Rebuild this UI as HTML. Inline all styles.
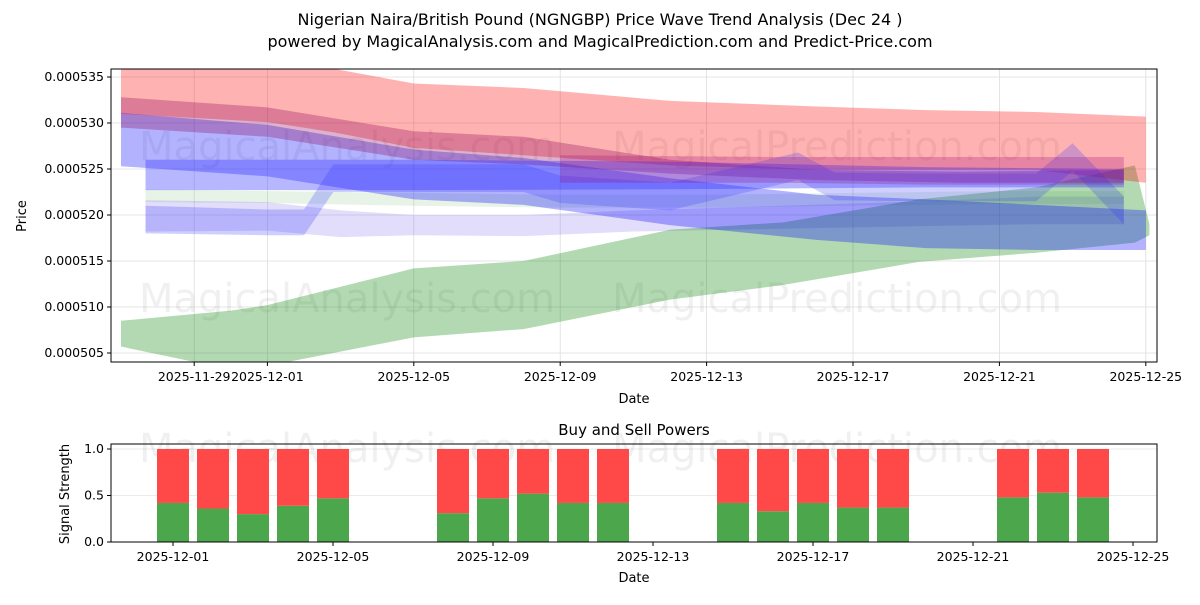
<!DOCTYPE html>
<html><head><meta charset="utf-8"><style>
body{margin:0;background:#fff;}
svg text{font-family:"DejaVu Sans","Liberation Sans",sans-serif;fill:#000;}
</style></head><body>
<svg id="c" width="1200" height="600" viewBox="0 0 1200 600">
<defs><clipPath id="clipT"><rect x="111" y="69" width="1046" height="293"/></clipPath></defs>
<text x="600" y="25" font-size="16" text-anchor="middle">Nigerian Naira/British Pound (NGNGBP) Price Wave Trend Analysis (Dec 24 )</text>
<text x="600" y="47" font-size="16" text-anchor="middle">powered by MagicalAnalysis.com and MagicalPrediction.com and Predict-Price.com</text>
<g id="topPanel"></g>
<g id="botPanel"></g>
</svg>
<script>
// ---- price chart data (day index from 2025-11-27, values in 1e-6 units) ----
const priceTickLabels=["0.000505","0.000510","0.000515","0.000520","0.000525","0.000530","0.000535"];
const priceTickValues=[505,510,515,520,525,530,535];
const dateTickLabels=["2025-11-29","2025-12-01","2025-12-05","2025-12-09","2025-12-13","2025-12-17","2025-12-21","2025-12-25"];
const dateTickDays=[2,4,8,12,16,20,24,28];
const redDays=[0,4,5.8,8,11,15,19,22,25,28];
const redUpper=[536.6,536.6,535.9,534.3,533.8,532.4,531.8,531.4,531.2,530.7];
const redLower=[531.0,530.1,529.0,527.3,526.5,525.4,524.9,524.9,524.9,523.5];
const purpleDays=[0,4,8,11,15,19,23,27.4];
const purpleUpper=[532.8,531.7,529.1,528.5,526.0,524.9,524.7,524.9];
const purpleLower=[529.5,528.5,526.0,525.5,524.5,523.8,523.5,523.5];
const blueDays=[0,4,8,11,15,19,22,25,28];
const blueUpper=[531.1,529.8,527.1,526.2,524.0,522.2,521.7,521.1,520.5];
const blueLower=[525.3,524.2,521.7,521.1,518.9,517.3,516.4,516.2,516.2];
const greenDays=[0,3,4,8,11,15,18.1,21.8,25,27.7,28.1];
const greenUpper=[508.5,509.6,510.2,514.2,515.0,518.4,519.2,521.7,523.0,525.4,519.0];
const greenLower=[505.7,503.2,503.6,506.7,507.6,510.8,512.4,514.9,515.9,517.0,517.8];
const flatDays=[0.67,8,15,22,27.4];
const flatUpper=[526.0,526.0,525.8,525.2,525.0];
const flatLower=[522.7,522.7,522.8,523.0,523.0];
const flat2Days=[12,18,22,27.4];
const flat2Upper=[526.5,526.3,526.3,526.3];
const flat2Lower=[523.5,523.5,523.3,523.3];
const lightGreenDays=[0.67,4,8,12,16,20,24,27.4];
const lightGreenUpper=[522.8,522.6,522.4,522.2,522.2,522.4,522.6,522.6];
const lightGreenLower=[521.4,521.3,521.0,520.8,520.8,521.0,521.2,521.2];
const lavDays=[0.67,4,6,8,11,14,18,22,25,27.4];
const lavUpper=[521.6,521.4,520.5,520.0,520.0,520.5,521.0,521.5,522.0,522.0];
const lavLower=[518.2,518.3,517.6,517.8,517.7,518.2,518.5,518.8,519.0,519.0];
const waveDays=[0.67,4,5,5.8,11,12,15,18.5,19.5,22,25,26,27.4];
const waveUpper=[521.0,520.6,520.6,525.5,525.5,524.3,523.5,526.8,524.6,524.5,524.5,527.8,522.0];
const waveLower=[518.0,517.8,517.8,522.5,522.5,521.3,520.5,523.8,521.6,521.5,521.5,524.8,519.0];
// ---- signal chart data (day index from 2025-11-27) ----
const barDays=[4,5,6,7,8,11,12,13,14,15,18,19,20,21,22,25,26,27];
const buyValues=[0.42,0.36,0.30,0.39,0.47,0.31,0.47,0.52,0.42,0.42,0.42,0.33,0.42,0.37,0.37,0.48,0.53,0.48];
const sigTickLabels=["0.0","0.5","1.0"];
const sigTickValues=[0,0.5,1.0];
const botTickLabels=["2025-12-01","2025-12-05","2025-12-09","2025-12-13","2025-12-17","2025-12-21","2025-12-25"];
const botTickDays=[4,8,12,16,20,24,28];

const NS="http://www.w3.org/2000/svg";
function mk(p,t,a){const e=document.createElementNS(NS,t);for(const k in a)e.setAttribute(k,a[k]);p.appendChild(e);return e;}
const topG=document.getElementById('topPanel'),botG=document.getElementById('botPanel');
const T={l:111,r:1157,t:69,b:362};
const xT=d=>121+d*36.6;
const yT=v=>77+(535-v)*9.2;
priceTickValues.forEach((v,i)=>{
 const g=mk(topG,'line',{x1:T.l,x2:T.r,y1:yT(v),y2:yT(v),stroke:'#ddd','stroke-width':0.8});
 
 mk(topG,'line',{x1:T.l-4,x2:T.l,y1:yT(v),y2:yT(v),stroke:'#000'});
 const t=mk(topG,'text',{x:T.l-7,y:yT(v)+4,'font-size':12.5,'text-anchor':'end'});t.textContent=priceTickLabels[i];
 
});
dateTickDays.forEach((d,i)=>{
 const g=mk(topG,'line',{x1:xT(d),x2:xT(d),y1:T.t,y2:T.b,stroke:'#ddd','stroke-width':0.8});
 
 mk(topG,'line',{x1:xT(d),x2:xT(d),y1:T.b,y2:T.b+4,stroke:'#000'});
 const t=mk(topG,'text',{x:xT(d),y:T.b+19,'font-size':12.5,'text-anchor':'middle'});t.textContent=dateTickLabels[i];
 
});
const wm1=mk(topG,'text',{x:347,y:160,'font-size':40,'text-anchor':'middle',style:'fill:rgba(0,0,0,0.06)'});wm1.textContent='MagicalAnalysis.com';

const wm2=mk(topG,'text',{x:837,y:160,'font-size':40,'text-anchor':'middle',style:'fill:rgba(0,0,0,0.06)'});wm2.textContent='MagicalPrediction.com';

const wm3=mk(topG,'text',{x:347,y:312,'font-size':40,'text-anchor':'middle',style:'fill:rgba(0,0,0,0.06)'});wm3.textContent='MagicalAnalysis.com';

const wm4=mk(topG,'text',{x:837,y:312,'font-size':40,'text-anchor':'middle',style:'fill:rgba(0,0,0,0.06)'});wm4.textContent='MagicalPrediction.com';

function band(days,up,lo,fill,name){
 let p=days.map((d,i)=>xT(d)+','+yT(up[i]));
 for(let i=days.length-1;i>=0;i--)p.push(xT(days[i])+','+yT(lo[i]));
 const e=mk(topG,'polygon',{points:p.join(' '),fill:fill,'clip-path':'url(#clipT)'});
 
}
band(lightGreenDays,lightGreenUpper,lightGreenLower,'rgba(120,190,120,0.18)','light-green-band');
band(lavDays,lavUpper,lavLower,'rgba(120,100,230,0.22)','lavender-band');
band(greenDays,greenUpper,greenLower,'rgba(0,128,0,0.3)','green-band');
band(redDays,redUpper,redLower,'rgba(255,0,0,0.3)','red-band');
band(blueDays,blueUpper,blueLower,'rgba(0,0,255,0.3)','blue-band');
band(purpleDays,purpleUpper,purpleLower,'rgba(140,0,90,0.3)','purple-band');
band(waveDays,waveUpper,waveLower,'rgba(60,60,255,0.25)','blue-wave-band');
band(flatDays,flatUpper,flatLower,'rgba(50,50,255,0.35)','blue-flat-band');
band(flat2Days,flat2Upper,flat2Lower,'rgba(150,0,120,0.25)','purple-flat-band');
const fr=mk(topG,'rect',{x:T.l,y:T.t,width:T.r-T.l,height:T.b-T.t,fill:'none',stroke:'#000','stroke-width':1});

let t1=mk(topG,'text',{x:634,y:403,'font-size':13,'text-anchor':'middle'});t1.textContent='Date';

let t2=mk(topG,'text',{x:26,y:216,'font-size':13,'text-anchor':'middle',transform:'rotate(-90 26 216)'});t2.textContent='Price';


// bottom
const B={l:111,r:1157,t:444,b:542};
const xB=d=>13+d*40;
const yB=v=>542-v*93;
sigTickValues.forEach((v,i)=>{
 const g=mk(botG,'line',{x1:B.l,x2:B.r,y1:yB(v),y2:yB(v),stroke:'#e4e4e4','stroke-width':0.8});
 
 mk(botG,'line',{x1:B.l-4,x2:B.l,y1:yB(v),y2:yB(v),stroke:'#000'});
 const t=mk(botG,'text',{x:B.l-7,y:yB(v)+4,'font-size':12.5,'text-anchor':'end'});t.textContent=sigTickLabels[i];
 
});
const wm5=mk(botG,'text',{x:347,y:462,'font-size':40,'text-anchor':'middle',style:'fill:rgba(0,0,0,0.06)'});wm5.textContent='MagicalAnalysis.com';

const wm6=mk(botG,'text',{x:837,y:462,'font-size':40,'text-anchor':'middle',style:'fill:rgba(0,0,0,0.06)'});wm6.textContent='MagicalPrediction.com';

barDays.forEach((d,i)=>{
 const x=xB(d)-16,bv=buyValues[i];
 const g=mk(botG,'rect',{x:x,y:yB(bv),width:32,height:yB(0)-yB(bv),fill:'#4ca64c'});
 
 const r=mk(botG,'rect',{x:x,y:yB(1),width:32,height:yB(bv)-yB(1),fill:'#ff4848'});
 
});
botTickDays.forEach((d,i)=>{
 mk(botG,'line',{x1:xB(d),x2:xB(d),y1:B.b,y2:B.b+4,stroke:'#000'});
 const t=mk(botG,'text',{x:xB(d),y:B.b+19,'font-size':12.5,'text-anchor':'middle'});t.textContent=botTickLabels[i];
 
});
const fr2=mk(botG,'rect',{x:B.l,y:B.t,width:B.r-B.l,height:B.b-B.t,fill:'none',stroke:'#000','stroke-width':1});

let t3=mk(botG,'text',{x:634,y:435,'font-size':15,'text-anchor':'middle'});t3.textContent='Buy and Sell Powers';

let t4=mk(botG,'text',{x:634,y:582,'font-size':13,'text-anchor':'middle'});t4.textContent='Date';

let t5=mk(botG,'text',{x:69,y:494,'font-size':13,'text-anchor':'middle',transform:'rotate(-90 69 494)'});t5.textContent='Signal Strength';

</script>
</body></html>
